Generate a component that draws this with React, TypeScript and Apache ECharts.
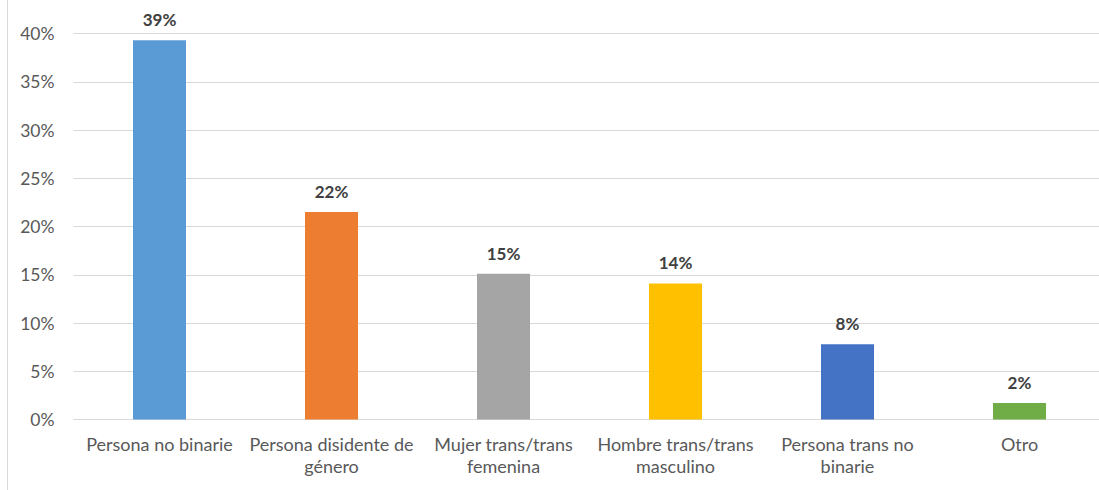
import React, { useEffect, useRef } from "react";
import * as echarts from "echarts";

const categories = [
  "Persona no binarie",
  "Persona disidente de\ngénero",
  "Mujer trans/trans\nfemenina",
  "Hombre trans/trans\nmasculino",
  "Persona trans no\nbinarie",
  "Otro",
];
const values = [39.3, 21.5, 15.1, 14.1, 7.8, 1.7];
const valueLabels = ["39%", "22%", "15%", "14%", "8%", "2%"];
const barColors = ["#5B9BD5", "#ED7D31", "#A5A5A5", "#FFC000", "#4472C4", "#70AD47"];
const yTicks = { min: 0, max: 40, interval: 5 };

const FONT = "Lato, 'Open Sans', sans-serif";

export default function App() {
  const ref = useRef<HTMLDivElement>(null);
  useEffect(() => {
    document.body.style.margin = "0";
    const chart = echarts.init(ref.current!, null, { renderer: "svg" });
    chart.setOption({
      animation: false,
      backgroundColor: "#ffffff",
      grid: { left: 73.5, right: 0.5, top: 33.5, bottom: 70.5, containLabel: false },
      graphic: [
        {
          type: "line",
          shape: { x1: 7.5, y1: 0, x2: 7.5, y2: 490 },
          style: { stroke: "#d9d9d9", lineWidth: 1 },
        },
      ],
      xAxis: {
        type: "category",
        data: categories,
        axisLine: { show: true, lineStyle: { color: "#d9d9d9", width: 1 } },
        axisTick: { show: false },
        axisLabel: {
          interval: 0,
          margin: 13,
          color: "#595959",
          fontSize: 18,
          fontFamily: FONT,
          lineHeight: 22,
        },
      },
      yAxis: {
        type: "value",
        min: yTicks.min,
        max: yTicks.max,
        interval: yTicks.interval,
        axisLine: { show: false },
        axisTick: { show: false },
        splitLine: { lineStyle: { color: "#d9d9d9", width: 1 } },
        axisLabel: {
          formatter: "{value}%",
          margin: 19,
          color: "#595959",
          fontSize: 17.5,
          fontFamily: FONT,
        },
      },
      series: [
        {
          type: "bar",
          barWidth: 53,
          data: values.map((v, i) => ({ value: v, itemStyle: { color: barColors[i] } })),
          label: {
            show: true,
            position: "top",
            distance: 12,
            formatter: (p: any) => valueLabels[p.dataIndex],
            color: "#404040",
            fontSize: 17,
            fontWeight: "bold",
            fontFamily: FONT,
          },
        },
      ],
    });
    return () => chart.dispose();
  }, []);
  return (
    <div style={{ width: 1099, height: 490, overflow: "hidden" }}>
      <div ref={ref} style={{ width: 1106, height: 490 }} />
    </div>
  );
}
